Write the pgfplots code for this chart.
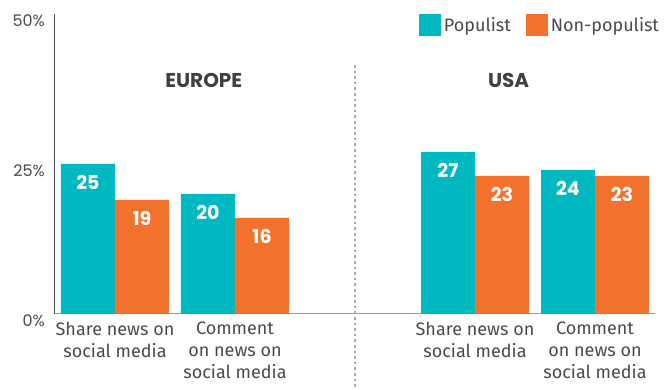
\documentclass[border=0pt]{standalone}
\usepackage{fontspec}
\setmainfont{Fira Sans}
\newfontfamily\numfont{Poppins}
\usepackage{pgfplots}
\pgfplotsset{compat=1.18}
\definecolor{popteal}{HTML}{00B8C0}
\definecolor{nonorange}{HTML}{F2712D}
\definecolor{txtgray}{HTML}{4A4A4A}
\definecolor{dotgray}{HTML}{ABABAB}

\begin{document}
\begin{tikzpicture}
\useasboundingbox (0,0) rectangle (665pt,390pt);
\begin{axis}[
  at={(55pt,76pt)}, anchor=south west,
  scale only axis, width=600pt, height=300pt,
  ybar=0pt, bar width=54pt,
  xmin=-0.5, xmax=4.5, ymin=0, ymax=50,
  clip=false,
  axis x line*=bottom, axis y line*=left,
  x axis line style={draw=gray!80, line width=1pt, -},
  y axis line style={draw=black!70, line width=1pt, -},
  xtick={0,1,3,4},
  xticklabels={Share news on\\social media, Comment\\on news on\\social media, Share news on\\social media, Comment\\on news on\\social media},
  xticklabel style={align=center, font=\fontsize{18}{22}\selectfont, text=txtgray, anchor=north, inner sep=0pt, yshift=-8pt},
  ytick={0,25,50}, yticklabels={0\%,25\%,50\%},
  yticklabel style={font=\numfont\fontsize{16}{17}\selectfont, text=txtgray, inner sep=0pt, yshift=-7pt, xshift=-10pt},
  major tick length=0pt,
  /pgf/number format/assume math mode=true,
  nodes near coords,
  nodes near coords style={anchor=north, inner sep=0pt, yshift=-11pt, text=white, font=\numfont\bfseries\fontsize{19}{20}\selectfont},
  legend image code/.code={\fill[#1] (0pt,-11pt) rectangle (22pt,11pt);},
  legend style={draw=none, at={(1.012,0.963)}, anchor=east, legend columns=2,
    font=\fontsize{18}{20}\selectfont, text=txtgray, inner sep=0pt,
    /tikz/every even column/.append style={column sep=12pt},
    nodes={inner xsep=3pt}},
]
\addplot[fill=popteal, draw=none] coordinates {(0,25) (1,20) (3,27) (4,24)};
\addplot[fill=nonorange, draw=none] coordinates {(0,19) (1,16) (3,23) (4,23)};
\legend{Populist, Non-populist}
\draw[dotgray, line width=2.6pt, dash pattern=on 2.6pt off 3pt]
  ({axis cs:2,0} |- {rel axis cs:0,0.83}) -- ({axis cs:2,0} |- {rel axis cs:0,-0.26});
\node[font=\numfont\bfseries\fontsize{20}{22}\selectfont, text=black!75] at (axis cs:0.74,39) {EUROPE};
\node[font=\numfont\bfseries\fontsize{20}{22}\selectfont, text=black!75] at (axis cs:3.28,39) {USA};
\end{axis}
\end{tikzpicture}
\end{document}
